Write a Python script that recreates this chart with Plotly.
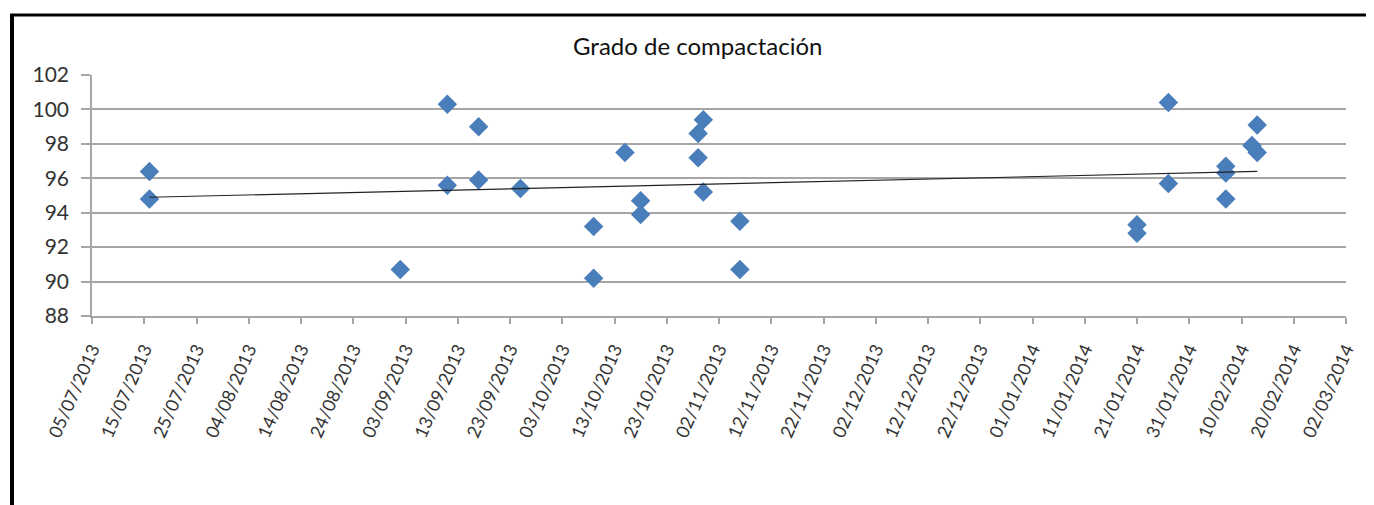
import numpy as np
import pandas as pd
import plotly.graph_objects as go

# Data
fechas = [
    "2013-07-16", "2013-07-16",
    "2013-09-02",
    "2013-09-11", "2013-09-11",
    "2013-09-17", "2013-09-17",
    "2013-09-25",
    "2013-10-09", "2013-10-09",
    "2013-10-15",
    "2013-10-18", "2013-10-18",
    "2013-10-29", "2013-10-29",
    "2013-10-30", "2013-10-30",
    "2013-11-06", "2013-11-06",
    "2014-01-21", "2014-01-21",
    "2014-01-27", "2014-01-27",
    "2014-02-07", "2014-02-07", "2014-02-07",
    "2014-02-12",
    "2014-02-13", "2014-02-13",
]
grado = [
    96.4, 94.8,
    90.7,
    100.3, 95.6,
    99.0, 95.9,
    95.4,
    93.2, 90.2,
    97.5,
    94.7, 93.9,
    98.6, 97.2,
    99.4, 95.2,
    93.5, 90.7,
    93.3, 92.8,
    100.4, 95.7,
    96.7, 96.3, 94.8,
    97.9,
    97.5, 99.1,
]

titulo = "Grado de compactación"
x_inicio = "2013-07-05"
x_fin = "2014-03-02"
y_ticks = [88, 90, 92, 94, 96, 98, 100, 102]

# Linear trendline (least squares)
d = pd.to_datetime(fechas)
dias = (d - d.min()).days.to_numpy(dtype=float)
pend, inter = np.polyfit(dias, np.array(grado), 1)
tx = [d.min(), d.max()]
ty = [inter, inter + pend * dias.max()]

fig = go.Figure()
fig.add_trace(go.Scatter(
    x=d, y=grado, mode="markers",
    marker=dict(symbol="diamond", size=15, color="#4a7ebb",
                line=dict(width=0)),
    showlegend=False, cliponaxis=False,
))
fig.add_trace(go.Scatter(
    x=tx, y=ty, mode="lines",
    line=dict(color="#222222", width=1.2),
    showlegend=False,
))

OFF = 8  # page body offset
W, H = 1374 - OFF, 505 - OFF
# plot area in reference pixels
PX0, PX1, PY0, PY1 = 92, 1346, 75, 316
L, R, T, B = PX0 - OFF, (W + OFF) - PX1, PY0 - OFF, (H + OFF) - PY1
pw, ph = PX1 - PX0, PY1 - PY0

def px_to_paper_x(px):
    return (px - PX0) / pw

def px_to_paper_y(py):
    return (PY1 - py) / ph

fig.update_layout(
    width=W, height=H,
    margin=dict(l=L, r=R, t=T, b=B, pad=0),
    paper_bgcolor="white", plot_bgcolor="white",
    font=dict(family="Lato, Open Sans, sans-serif", color="#333333"),
    xaxis=dict(
        type="date",
        range=[x_inicio, x_fin],
        tick0=x_inicio, dtick=10 * 86400000,
        tickformat="%d/%m/%Y",
        tickangle=-66,
        ticks="outside", ticklen=6, tickcolor="#a6a6a6", tickwidth=1.5,
        showline=True, linecolor="#a6a6a6", linewidth=1.5,
        showgrid=False, zeroline=False,
        tickfont=dict(size=18, color="#333333"),
        ticklabelstandoff=8,
    ),
    yaxis=dict(
        range=[88, 102],
        tickvals=y_ticks,
        ticks="outside", ticklen=9, tickcolor="#a6a6a6", tickwidth=1.5,
        showline=True, linecolor="#a6a6a6", linewidth=1.5,
        showgrid=True, gridcolor="#a6a6a6", gridwidth=1.5,
        zeroline=False,
        tickfont=dict(size=21, color="#333333"),
        ticklabelstandoff=8,
    ),
    annotations=[dict(
        text=titulo, xref="paper", yref="paper",
        x=px_to_paper_x(697), y=px_to_paper_y(45),
        xanchor="center", yanchor="middle", showarrow=False,
        font=dict(size=24, color="#111111", family="Lato, Open Sans, sans-serif"),
    )],
    shapes=[
        dict(type="line", xref="paper", yref="paper",
             x0=px_to_paper_x(10), x1=px_to_paper_x(1380),
             y0=px_to_paper_y(15), y1=px_to_paper_y(15),
             line=dict(color="black", width=3)),
        dict(type="line", xref="paper", yref="paper",
             x0=px_to_paper_x(12), x1=px_to_paper_x(12),
             y0=px_to_paper_y(14), y1=px_to_paper_y(510),
             line=dict(color="black", width=4)),
    ],
)

fig.write_html("out.html")
